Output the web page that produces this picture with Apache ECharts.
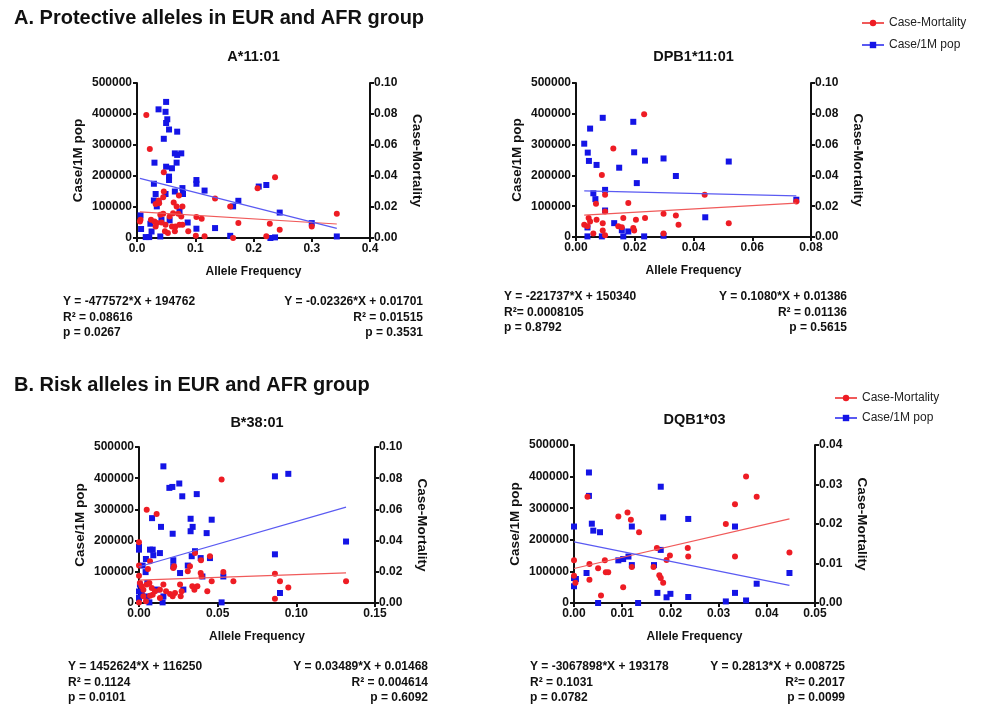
<!DOCTYPE html>
<html>
<head>
<meta charset="utf-8">
<script src="https://cdn.jsdelivr.net/npm/echarts@6/dist/echarts.min.js"></script>
<style>
html, body { margin: 0; padding: 0; background: #fff; }
#chart { width: 984px; height: 708px; }
</style>
</head>
<body>
<div id="chart"></div>
<script>
// ---- data: [allele frequency, value] ----
// A*11:01
var a1Pop = [[0.050,439000],[0.037,415000],[0.049,407000],[0.052,383000],[0.050,371000],[0.055,350000],[0.069,343000],[0.046,320000],[0.065,273000],[0.076,273000],[0.069,268000],[0.068,243000],[0.030,243000],[0.050,230000],[0.060,225000],[0.055,198000],[0.055,187000],[0.029,175000],[0.102,187000],[0.102,175000],[0.078,161000],[0.116,153000],[0.065,150000],[0.032,142000],[0.079,142000],[0.049,142000],[0.174,120000],[0.165,102000],[0.209,166000],[0.222,171000],[0.029,121000],[0.037,118000],[0.034,102000],[0.073,86000],[0.245,82000],[0.300,48000],[0.006,73000],[0.007,29000],[0.023,46000],[0.025,21000],[0.042,59000],[0.056,57000],[0.087,50000],[0.102,30000],[0.134,32000],[0.160,7000],[0.015,3000],[0.021,3000],[0.040,5000],[0.229,0],[0.237,2000],[0.343,5000]];
var a1Mort = [[0.016,0.0794],[0.022,0.0574],[0.046,0.0424],[0.046,0.030],[0.045,0.0263],[0.038,0.0225],[0.032,0.022],[0.037,0.0242],[0.063,0.0229],[0.072,0.0274],[0.068,0.0203],[0.078,0.0203],[0.045,0.0156],[0.040,0.015],[0.056,0.0139],[0.062,0.016],[0.071,0.0156],[0.076,0.0139],[0.006,0.0118],[0.005,0.0107],[0.024,0.0118],[0.030,0.0107],[0.034,0.0096],[0.042,0.010],[0.049,0.0086],[0.060,0.0075],[0.066,0.0075],[0.073,0.0086],[0.078,0.0086],[0.088,0.0043],[0.032,0.0075],[0.048,0.0043],[0.053,0.0032],[0.065,0.0043],[0.102,0.0135],[0.111,0.0124],[0.101,0.0015],[0.116,0.0011],[0.134,0.0255],[0.160,0.0203],[0.174,0.0096],[0.165,0.0],[0.207,0.0321],[0.237,0.0392],[0.228,0.0092],[0.222,0.0011],[0.245,0.0054],[0.300,0.0075],[0.343,0.0156]];
// DPB1*11:01
var a2Pop = [[0.0028,303000],[0.0048,352000],[0.0040,274000],[0.0044,247000],[0.0070,234000],[0.0091,387000],[0.0099,153000],[0.0059,142000],[0.0066,123000],[0.0099,86000],[0.0195,374000],[0.0198,275000],[0.0235,248000],[0.0298,255000],[0.0147,225000],[0.0207,175000],[0.0340,198000],[0.0520,245000],[0.0750,121000],[0.0440,64000],[0.0130,45000],[0.0156,22000],[0.0178,18000],[0.0039,31000],[0.0039,2000],[0.0088,2000],[0.0161,2000],[0.0232,2000],[0.0298,4000]];
var a2Mort = [[0.0232,0.0797],[0.0127,0.0575],[0.0088,0.0403],[0.0099,0.0274],[0.0068,0.0216],[0.0178,0.022],[0.0438,0.0274],[0.0750,0.0231],[0.0028,0.008],[0.0043,0.0123],[0.0048,0.0101],[0.0039,0.0069],[0.0070,0.0112],[0.0091,0.009],[0.0099,0.0166],[0.0161,0.0123],[0.0204,0.0112],[0.0235,0.0123],[0.0298,0.0151],[0.0340,0.014],[0.0349,0.008],[0.0520,0.009],[0.0144,0.0069],[0.0156,0.0063],[0.0195,0.0058],[0.0198,0.0043],[0.0091,0.0043],[0.0059,0.0022],[0.0099,0.0011],[0.0298,0.0022]];
// B*38:01
var b1Pop = [[0.0155,438000],[0.0193,369000],[0.0212,372000],[0.0256,383000],[0.0275,342000],[0.0367,349000],[0.0864,406000],[0.0949,414000],[0.0083,272000],[0.0328,270000],[0.0341,244000],[0.0328,230000],[0.0462,267000],[0.0140,244000],[0.0214,222000],[0.0430,224000],[0,180000],[0,171000],[0.0070,171000],[0.0087,171000],[0.0133,160000],[0.0091,153000],[0.0044,141000],[0.0218,137000],[0.0335,150000],[0.0356,166000],[0.0392,144000],[0.0451,144000],[0.0310,120000],[0.0218,118000],[0.0261,96000],[0.0042,99000],[0.0023,120000],[0.0864,156000],[0.1316,197000],[0.0536,85000],[0.0403,85000],[0.0896,32000],[0.0112,43000],[0,37000],[0.0017,27000],[0,16000],[0.0049,21000],[0.0155,21000],[0.0066,2000],[0.0150,2000],[0.0525,2000],[0.0006,59000],[0.0053,64000],[0.0282,43000]];
var b1Mort = [[0.0525,0.0791],[0.0049,0.0598],[0.0112,0.057],[0,0.0389],[0.0070,0.0267],[0,0.0241],[0.0057,0.0218],[0.0218,0.0224],[0.0223,0.0235],[0.0356,0.032],[0.0324,0.0235],[0.0394,0.0274],[0.0451,0.0299],[0.0392,0.0192],[0.0398,0.0171],[0.0536,0.0199],[0.0864,0.0188],[0.0462,0.0139],[0.0600,0.0139],[0.0896,0.0139],[0.0949,0.0100],[0.1316,0.0139],[0.0864,0.0028],[0,0.0175],[0.0006,0.0128],[0.0017,0.0107],[0.0028,0.0085],[0.0049,0.0118],[0.0066,0.0128],[0.0081,0.0096],[0.0102,0.0075],[0.0133,0.0085],[0.0155,0.0118],[0.0172,0.0075],[0.0197,0.0058],[0.0229,0.0064],[0.0261,0.0118],[0.0271,0.0075],[0.0265,0.0043],[0.0310,0.0203],[0.0339,0.0107],[0.0352,0.0085],[0.0371,0.0107],[0.0434,0.0075],[0.0087,0.0053],[0.0044,0.0011],[0,0.0004],[0.0070,0.0047],[0.0133,0.0032],[0.0214,0.0043],[0.0028,0.0043]];
// DQB1*03
var b2Pop = [[0,242000],[0,79000],[0,53000],[0.0004,76000],[0.0031,413000],[0.0031,339000],[0.0026,95000],[0.0037,251000],[0.0040,229000],[0.0054,224000],[0.0050,0],[0.0092,135000],[0.0102,139000],[0.0113,147000],[0.0120,242000],[0.0120,120000],[0.0133,0],[0.0166,120000],[0.0173,32000],[0.0180,368000],[0.0180,168000],[0.0185,271000],[0.0192,18000],[0.0200,29000],[0.0237,266000],[0.0237,19000],[0.0315,5000],[0.0334,32000],[0.0334,242000],[0.0357,8000],[0.0379,61000],[0.0447,95000]];
var b2Mort = [[0,0.0108],[0,0.0069],[0.0003,0.0051],[0.0028,0.0269],[0.0032,0.0099],[0.0032,0.0059],[0.0050,0.0088],[0.0056,0.0019],[0.0064,0.0108],[0.0066,0.0078],[0.0071,0.0078],[0.0092,0.0219],[0.0102,0.0040],[0.0111,0.0229],[0.0118,0.0211],[0.0120,0.0091],[0.0135,0.0179],[0.0165,0.0091],[0.0172,0.0139],[0.0177,0.0070],[0.0180,0.0063],[0.0185,0.0051],[0.0192,0.0109],[0.0199,0.0120],[0.0236,0.0139],[0.0237,0.0118],[0.0315,0.0200],[0.0334,0.0250],[0.0334,0.0118],[0.0357,0.0320],[0.0379,0.0269],[0.0447,0.0128]];

// fitted lines as printed under each panel: [slope, intercept]
var a1PopFit = [-477572, 194762],   a1MortFit = [-0.02326, 0.01701];
var a2PopFit = [-221737, 150340],   a2MortFit = [0.1080, 0.01386];
var b1PopFit = [1452624, 116250],   b1MortFit = [0.03489, 0.01468];
var b2PopFit = [-3067898, 193178],  b2MortFit = [0.2813, 0.008725];

var panelTitles = ['A*11:01', 'DPB1*11:01', 'B*38:01', 'DQB1*03'];
var xMax = [0.4, 0.08, 0.15, 0.05];
var xStep = [0.1, 0.02, 0.05, 0.01];
var xDigits = [1, 2, 2, 2];
var rightMax = [0.10, 0.10, 0.10, 0.04];
var rightStep = [0.02, 0.02, 0.02, 0.01];

var statsLeft = [
  ['Y = -477572*X + 194762', 'R\u00b2 = 0.08616', 'p = 0.0267'],
  ['Y = -221737*X + 150340', 'R\u00b2= 0.0008105', 'p = 0.8792'],
  ['Y = 1452624*X + 116250', 'R\u00b2 = 0.1124', 'p = 0.0101'],
  ['Y = -3067898*X + 193178', 'R\u00b2 = 0.1031', 'p = 0.0782']
];
var statsRight = [
  ['Y = -0.02326*X + 0.01701', 'R\u00b2 = 0.01515', 'p = 0.3531'],
  ['Y = 0.1080*X + 0.01386', 'R\u00b2 = 0.01136', 'p = 0.5615'],
  ['Y = 0.03489*X + 0.01468', 'R\u00b2 = 0.004614', 'p = 0.6092'],
  ['Y = 0.2813*X + 0.008725', 'R\u00b2= 0.2017', 'p = 0.0099']
];

var popData = [a1Pop, a2Pop, b1Pop, b2Pop];
var mortData = [a1Mort, a2Mort, b1Mort, b2Mort];
var popFits = [a1PopFit, a2PopFit, b1PopFit, b2PopFit];
var mortFits = [a1MortFit, a2MortFit, b1MortFit, b2MortFit];

var FONT = '"Liberation Sans", Arial, sans-serif';
var RED = '#ee1c24', BLUE = '#1414e6';
var RED_LINE = '#f05a5a', BLUE_LINE = '#5a5af2';

// plot boxes in pixels
var boxes = [
  { left: 137, top: 83, width: 233, height: 155 },
  { left: 576, top: 83, width: 235, height: 154 },
  { left: 139, top: 447, width: 236, height: 156 },
  { left: 574, top: 445, width: 241, height: 158 }
];
// text blocks: [leftX, rightX, firstLineY]
var statPos = [[63, 423, 302], [504, 847, 297], [68, 428, 667], [530, 845, 667]];
var titleY = [57, 57, 423, 420];

var axisLineStyle = { color: '#111', width: 2 };
var labelStyle = { color: '#111', fontWeight: 'bold', fontSize: 12, fontFamily: FONT };
var nameStyle = { color: '#111', fontWeight: 'bold', fontSize: 12, fontFamily: FONT };

function fitLine(fit, pts1, pts2) {
  var xs = pts1.concat(pts2).map(function (p) { return p[0]; });
  var lo = Math.min.apply(null, xs), hi = Math.max.apply(null, xs);
  return [[lo, fit[0] * lo + fit[1]], [hi, fit[0] * hi + fit[1]]];
}

var grid = [], xAxis = [], yAxis = [], series = [], graphic = [];

boxes.forEach(function (b, i) {
  grid.push(b);
  xAxis.push({
    type: 'value', gridIndex: i, min: 0, max: xMax[i], interval: xStep[i],
    name: 'Allele Frequency', nameLocation: 'middle', nameGap: 28, nameTextStyle: nameStyle,
    axisLine: { onZero: false, lineStyle: axisLineStyle },
    axisTick: { length: 4, lineStyle: axisLineStyle },
    axisLabel: Object.assign({ margin: 5, formatter: function (v) { return v.toFixed(xDigits[i]); } }, labelStyle),
    splitLine: { show: false }
  });
  yAxis.push({
    type: 'value', gridIndex: i, position: 'left', min: 0, max: 500000, interval: 100000,
    name: 'Case/1M pop', nameLocation: 'middle', nameRotate: 90, nameGap: 52,
    nameTextStyle: Object.assign({}, nameStyle, { fontSize: 13.5 }),
    axisLine: { onZero: false, lineStyle: axisLineStyle },
    axisTick: { length: 4, lineStyle: axisLineStyle },
    axisLabel: Object.assign({ margin: 5, formatter: function (v) { return String(v); } }, labelStyle),
    splitLine: { show: false }
  });
  yAxis.push({
    type: 'value', gridIndex: i, position: 'right', min: 0, max: rightMax[i], interval: rightStep[i],
    name: 'Case-Mortality', nameLocation: 'middle', nameRotate: -90, nameGap: 40,
    nameTextStyle: Object.assign({}, nameStyle, { fontSize: 13.5 }),
    axisLine: { onZero: false, lineStyle: axisLineStyle },
    axisTick: { length: 4, lineStyle: axisLineStyle },
    axisLabel: Object.assign({ margin: 4, formatter: function (v) { return v.toFixed(2); } }, labelStyle),
    splitLine: { show: false }
  });

  series.push({
    name: 'Case-Mortality', type: 'line', xAxisIndex: i, yAxisIndex: 2 * i + 1,
    data: fitLine(mortFits[i], popData[i], mortData[i]),
    symbol: 'circle', symbolSize: 6, showSymbol: false, z: 4, silent: true,
    lineStyle: { color: RED_LINE, width: 1.2 }, itemStyle: { color: RED }
  });
  series.push({
    name: 'Case/1M pop', type: 'line', xAxisIndex: i, yAxisIndex: 2 * i,
    data: fitLine(popFits[i], popData[i], mortData[i]),
    symbol: 'rect', symbolSize: 6, showSymbol: false, z: 4, silent: true,
    lineStyle: { color: BLUE_LINE, width: 1.2 }, itemStyle: { color: BLUE }
  });
  series.push({
    name: 'Case/1M pop', type: 'scatter', xAxisIndex: i, yAxisIndex: 2 * i,
    data: popData[i], symbol: 'rect', symbolSize: 6, itemStyle: { color: BLUE, opacity: 1 }, z: 2
  });
  series.push({
    name: 'Case-Mortality', type: 'scatter', xAxisIndex: i, yAxisIndex: 2 * i + 1,
    data: mortData[i], symbol: 'circle', symbolSize: 6, itemStyle: { color: RED, opacity: 1 }, z: 3
  });

  // panel title
  graphic.push({
    type: 'text', x: b.left + b.width / 2, y: titleY[i],
    style: { text: panelTitles[i], font: 'bold 14.5px ' + FONT, fill: '#111',
      align: 'center', verticalAlign: 'middle', textAlign: 'center', textVerticalAlign: 'middle' }
  });
  // regression statistics
  var sp = statPos[i];
  for (var k = 0; k < 3; k++) {
    graphic.push({
      type: 'text', x: sp[0], y: sp[2] + k * 15.5,
      style: { text: statsLeft[i][k], font: 'bold 12px ' + FONT, fill: '#111',
        align: 'left', verticalAlign: 'middle', textAlign: 'left', textVerticalAlign: 'middle' }
    });
    graphic.push({
      type: 'text', x: sp[1], y: sp[2] + k * 15.5,
      style: { text: statsRight[i][k], font: 'bold 12px ' + FONT, fill: '#111',
        align: 'right', verticalAlign: 'middle', textAlign: 'right', textVerticalAlign: 'middle' }
    });
  }
});

// section headings
graphic.push({
  type: 'text', x: 14, y: 18,
  style: { text: 'A. Protective alleles in EUR and AFR group', font: 'bold 20px ' + FONT, fill: '#111',
    align: 'left', verticalAlign: 'middle', textAlign: 'left', textVerticalAlign: 'middle' }
});
graphic.push({
  type: 'text', x: 14, y: 385,
  style: { text: 'B. Risk alleles in EUR and AFR group', font: 'bold 20px ' + FONT, fill: '#111',
    align: 'left', verticalAlign: 'middle', textAlign: 'left', textVerticalAlign: 'middle' }
});

var legendBase = {
  orient: 'vertical', itemWidth: 22, itemHeight: 8, selectedMode: false,
  textStyle: { fontSize: 12, color: '#222', fontFamily: FONT },
  data: ['Case-Mortality', 'Case/1M pop']
};

var chart = echarts.init(document.getElementById('chart'), null, { renderer: 'canvas' });
chart.setOption({
  backgroundColor: '#fff',
  animation: false,
  textStyle: { fontFamily: FONT },
  legend: [
    Object.assign({ left: 856, top: 12, itemGap: 10 }, legendBase),
    Object.assign({ left: 829, top: 387, itemGap: 8 }, legendBase)
  ],
  grid: grid,
  xAxis: xAxis,
  yAxis: yAxis,
  series: series,
  graphic: graphic
});
</script>
</body>
</html>
